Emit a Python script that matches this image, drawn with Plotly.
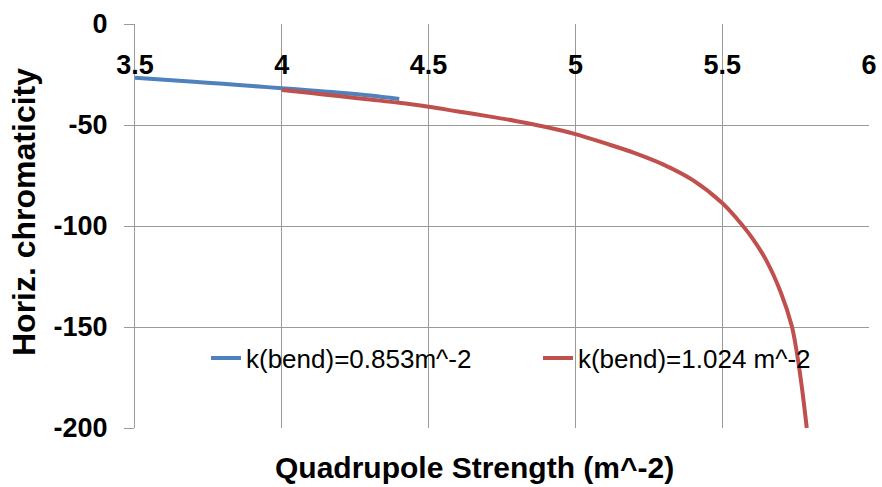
import plotly.graph_objects as go

# Series: k(bend)=0.853 m^-2
blue_x = [3.5, 3.6, 3.7, 3.8, 3.9, 4.0, 4.1, 4.2, 4.3, 4.4]
blue_y = [-26.6, -27.6, -28.6, -29.6, -30.7, -31.8, -32.9, -34.0, -35.4, -37.1]

# Series: k(bend)=1.024 m^-2
red_x = [4.0, 4.1, 4.2, 4.3, 4.4, 4.5, 4.6, 4.7, 4.8, 4.9, 5.0, 5.1, 5.2, 5.3,
         5.4, 5.5, 5.55, 5.6, 5.65, 5.7, 5.737, 5.754, 5.771, 5.788]
red_y = [-32.7, -34.2, -35.8, -37.4, -39.0, -41.0, -43.3, -45.6, -48.1, -51.0,
         -54.5, -59.0, -63.8, -69.6, -77.3, -88.6, -96.4, -105.5, -117.0,
         -133.0, -149.5, -162.5, -179.5, -200.0]

series_names = ["k(bend)=0.853m^-2", "k(bend)=1.024 m^-2"]
x_ticks = [3.5, 4, 4.5, 5, 5.5, 6]
y_ticks = [0, -50, -100, -150, -200]

FONT = "Liberation Sans, Arial, sans-serif"
GRID = "#9a9a9a"

fig = go.Figure()
fig.add_trace(go.Scatter(x=blue_x, y=blue_y, mode="lines", name=series_names[0],
                         legend="legend",
                         line=dict(color="#4F81BD", width=4, shape="spline")))
fig.add_trace(go.Scatter(x=red_x, y=red_y, mode="lines", name=series_names[1],
                         legend="legend2",
                         line=dict(color="#C0504D", width=4, shape="spline")))

legend_common = dict(orientation="h", y=0.173, xanchor="left", yanchor="middle",
                     font=dict(family=FONT, size=26, color="black"),
                     bgcolor="rgba(0,0,0,0)")

fig.update_layout(
    width=882, height=487,
    margin=dict(l=135, r=13, t=24, b=59),
    paper_bgcolor="white", plot_bgcolor="white",
    font=dict(family=FONT, color="black"),
    showlegend=True,
    legend=dict(x=0.0967, **legend_common),
    legend2=dict(x=0.549, **legend_common),
    xaxis=dict(range=[3.5, 6], tickvals=x_ticks, ticktext=[str(v) for v in x_ticks],
               anchor="free", position=1, side="bottom", automargin=False,
               showgrid=True, gridcolor=GRID, gridwidth=1,
               showline=False, zeroline=False, ticks="",
               ticklabelstandoff=22,
               tickfont=dict(family=FONT, size=27, color="black", weight="bold")),
    yaxis=dict(range=[-200, 0], tickvals=y_ticks, ticktext=[str(v) for v in y_ticks],
               automargin=False,
               showgrid=True, gridcolor=GRID, gridwidth=1,
               showline=True, linecolor=GRID, linewidth=1, zeroline=False,
               ticks="outside", ticklen=10, tickcolor=GRID, tickwidth=1,
               ticklabelstandoff=11,
               tickfont=dict(family=FONT, size=27, color="black", weight="bold")),
    annotations=[
        dict(text="Quadrupole Strength (m^-2)", xref="paper", yref="paper",
             x=0.462, y=-0.099, xanchor="center", yanchor="middle", showarrow=False,
             font=dict(family=FONT, size=30, color="black", weight="bold")),
        dict(text="Horiz. chromaticity", xref="paper", yref="paper", textangle=-90,
             x=-0.151, y=0.535, xanchor="center", yanchor="middle", showarrow=False,
             font=dict(family=FONT, size=32, color="black", weight="bold")),
    ],
)

fig.write_html("out.html", config={"displayModeBar": False},
               post_script="document.body.style.margin='0px';")
